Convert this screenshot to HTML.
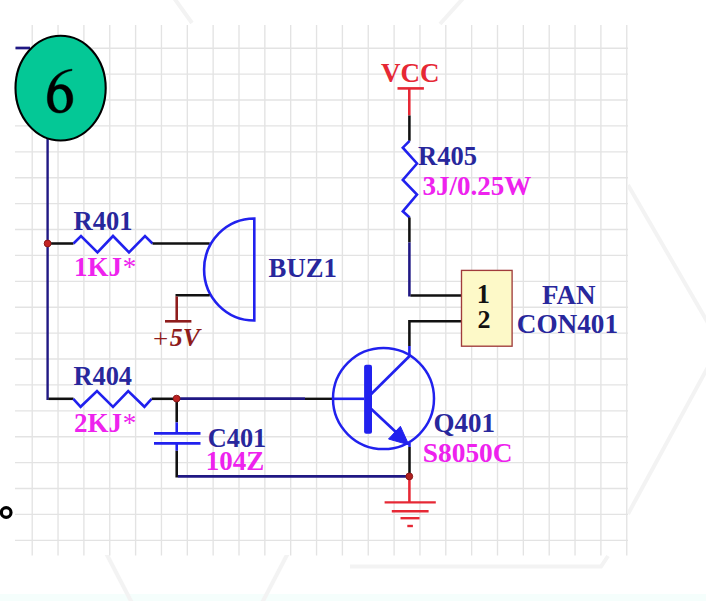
<!DOCTYPE html>
<html><head><meta charset="utf-8"><style>
html,body{margin:0;padding:0;background:#fff;width:706px;height:601px;overflow:hidden;}
svg{display:block;font-family:"Liberation Serif",serif;}
</style></head><body>
<svg width="706" height="601" viewBox="0 0 706 601">
<rect x="0" y="0" width="706" height="601" fill="#fff"/><rect x="0" y="594" width="706" height="7" fill="#f5fefc"/><g stroke="#f3f3f3" stroke-width="4" fill="none"><line x1="174" y1="-2" x2="192" y2="23"/><line x1="463.4" y1="-2" x2="440" y2="24"/><line x1="628" y1="185" x2="708" y2="323"/><line x1="708" y1="367" x2="628" y2="514"/><line x1="106" y1="553" x2="132" y2="603"/><line x1="288" y1="553" x2="262" y2="603"/><polyline points="350,566.5 601,566.5 608,556"/></g><rect x="15" y="25" width="613" height="530" fill="#fff"/><g stroke="#e3e3e3" stroke-width="1.35"><line x1="32.20" y1="25" x2="32.20" y2="555.5"/><line x1="58.05" y1="25" x2="58.05" y2="555.5"/><line x1="83.90" y1="25" x2="83.90" y2="555.5"/><line x1="109.75" y1="25" x2="109.75" y2="555.5"/><line x1="135.60" y1="25" x2="135.60" y2="555.5"/><line x1="161.45" y1="25" x2="161.45" y2="555.5"/><line x1="187.30" y1="25" x2="187.30" y2="555.5"/><line x1="213.15" y1="25" x2="213.15" y2="555.5"/><line x1="239.00" y1="25" x2="239.00" y2="555.5"/><line x1="264.85" y1="25" x2="264.85" y2="555.5"/><line x1="290.70" y1="25" x2="290.70" y2="555.5"/><line x1="316.55" y1="25" x2="316.55" y2="555.5"/><line x1="342.40" y1="25" x2="342.40" y2="555.5"/><line x1="368.25" y1="25" x2="368.25" y2="555.5"/><line x1="394.10" y1="25" x2="394.10" y2="555.5"/><line x1="419.95" y1="25" x2="419.95" y2="555.5"/><line x1="445.80" y1="25" x2="445.80" y2="555.5"/><line x1="471.65" y1="25" x2="471.65" y2="555.5"/><line x1="497.50" y1="25" x2="497.50" y2="555.5"/><line x1="523.35" y1="25" x2="523.35" y2="555.5"/><line x1="549.20" y1="25" x2="549.20" y2="555.5"/><line x1="575.05" y1="25" x2="575.05" y2="555.5"/><line x1="600.90" y1="25" x2="600.90" y2="555.5"/><line x1="626.75" y1="25" x2="626.75" y2="555.5"/><line x1="15" y1="48.20" x2="628" y2="48.20"/><line x1="15" y1="74.10" x2="628" y2="74.10"/><line x1="15" y1="100.00" x2="628" y2="100.00"/><line x1="15" y1="125.90" x2="628" y2="125.90"/><line x1="15" y1="151.80" x2="628" y2="151.80"/><line x1="15" y1="177.70" x2="628" y2="177.70"/><line x1="15" y1="203.60" x2="628" y2="203.60"/><line x1="15" y1="229.50" x2="628" y2="229.50"/><line x1="15" y1="255.40" x2="628" y2="255.40"/><line x1="15" y1="281.30" x2="628" y2="281.30"/><line x1="15" y1="307.20" x2="628" y2="307.20"/><line x1="15" y1="333.10" x2="628" y2="333.10"/><line x1="15" y1="359.00" x2="628" y2="359.00"/><line x1="15" y1="384.90" x2="628" y2="384.90"/><line x1="15" y1="410.80" x2="628" y2="410.80"/><line x1="15" y1="436.70" x2="628" y2="436.70"/><line x1="15" y1="462.60" x2="628" y2="462.60"/><line x1="15" y1="488.50" x2="628" y2="488.50"/><line x1="15" y1="514.40" x2="628" y2="514.40"/><line x1="15" y1="540.30" x2="628" y2="540.30"/></g><polyline points="15.5,48 30,48" fill="none" stroke="#201884" stroke-width="2.7" stroke-linejoin="miter" /><polyline points="47.6,130 47.6,400" fill="none" stroke="#201884" stroke-width="2.4" stroke-linejoin="miter" /><polyline points="48.5,398.8 73.5,398.8" fill="none" stroke="#111111" stroke-width="2.55" stroke-linejoin="miter" /><polyline points="48.5,243.5 73.5,243.5" fill="none" stroke="#111111" stroke-width="2.55" stroke-linejoin="miter" /><polyline points="73.5,243.5 81,236 97.5,252.5 113,236 129,252.5 145,236 152.5,243.5" fill="none" stroke="#2121ee" stroke-width="2.6" stroke-linejoin="miter" stroke-linecap="butt"/><polyline points="152.5,243.5 209.7,243.5" fill="none" stroke="#111111" stroke-width="2.55" stroke-linejoin="miter" /><polyline points="73.3,398.8 80.6,406.8 97,391 113,406.8 128.2,391 144.4,406.8 151.6,398.8" fill="none" stroke="#2121ee" stroke-width="2.6" stroke-linejoin="miter" stroke-linecap="butt"/><polyline points="151.6,398.8 176.5,398.8" fill="none" stroke="#111111" stroke-width="2.55" stroke-linejoin="miter" /><polyline points="176.5,398.6 305,398.6" fill="none" stroke="#201884" stroke-width="2.7" stroke-linejoin="miter" /><polyline points="305,398.8 332.9,398.8" fill="none" stroke="#111111" stroke-width="2.4" stroke-linejoin="miter" /><path d="M254.3,218.5 A50.2,51 0 0 0 254.3,320.5 Z" fill="none" stroke="#2121ee" stroke-width="2.6"/><polyline points="209.7,295.3 175.5,295.3" fill="none" stroke="#111111" stroke-width="2.55" stroke-linejoin="miter" /><polyline points="176.7,296.4 176.7,321.3" fill="none" stroke="#8e1c1c" stroke-width="2.55" stroke-linejoin="miter" /><polyline points="165,321.3 191.4,321.3" fill="none" stroke="#8e1c1c" stroke-width="2.6" stroke-linejoin="miter" /><polyline points="176.7,399 176.7,422.4" fill="none" stroke="#111111" stroke-width="2.55" stroke-linejoin="miter" /><polyline points="176.7,422.4 176.7,433" fill="none" stroke="#2121ee" stroke-width="2.55" stroke-linejoin="miter" /><polyline points="154,433.3 200.5,433.3" fill="none" stroke="#2121ee" stroke-width="2.7" stroke-linejoin="miter" /><polyline points="154,443.3 200.5,443.3" fill="none" stroke="#2121ee" stroke-width="2.7" stroke-linejoin="miter" /><polyline points="176.7,443.3 176.7,450.8" fill="none" stroke="#2121ee" stroke-width="2.55" stroke-linejoin="miter" /><polyline points="176.7,450.8 176.7,477.5" fill="none" stroke="#111111" stroke-width="2.55" stroke-linejoin="miter" /><polyline points="177.9,476.3 409.4,476.3" fill="none" stroke="#201884" stroke-width="2.7" stroke-linejoin="miter" /><circle cx="383.5" cy="398.6" r="50.5" fill="none" stroke="#2121ee" stroke-width="2.5"/><polyline points="332.9,398.8 364,398.8" fill="none" stroke="#2121ee" stroke-width="2.6" stroke-linejoin="miter" stroke-linecap="butt"/><rect x="364.1" y="364.8" width="7.9" height="69" rx="2" fill="#2121ee"/><polyline points="371,394.3 409.6,356" fill="none" stroke="#2121ee" stroke-width="2.7" stroke-linejoin="miter" stroke-linecap="butt"/><polyline points="371,408.8 402,437.8" fill="none" stroke="#2121ee" stroke-width="2.7" stroke-linejoin="miter" stroke-linecap="butt"/><polygon points="408.8,444.8 388.5,439 400.4,426.3" fill="#2121ee" stroke="#2121ee" stroke-width="1" stroke-linejoin="round"/><polyline points="409.5,443 409.5,447" fill="none" stroke="#2121ee" stroke-width="2.5" stroke-linejoin="miter" /><polyline points="409.5,447 409.5,476.3" fill="none" stroke="#111111" stroke-width="2.55" stroke-linejoin="miter" /><polyline points="409.4,346 409.4,355" fill="none" stroke="#2121ee" stroke-width="2.6" stroke-linejoin="miter" stroke-linecap="butt"/><polyline points="409.4,346 409.4,321.2 461.6,321.2" fill="none" stroke="#111111" stroke-width="2.55" stroke-linejoin="miter" /><polyline points="397.5,88.4 423.9,88.4" fill="none" stroke="#e62835" stroke-width="2.6" stroke-linejoin="miter" /><polyline points="409.3,88.6 409.3,115.5" fill="none" stroke="#e62835" stroke-width="2.55" stroke-linejoin="miter" /><polyline points="409.4,115.5 409.4,140.8" fill="none" stroke="#111111" stroke-width="2.55" stroke-linejoin="miter" /><polyline points="409.6,140.8 402.8,147.7 417,163.5 402.8,180 417,194.5 402.8,211.3 409.6,217.5" fill="none" stroke="#2121ee" stroke-width="2.6" stroke-linejoin="miter" stroke-linecap="butt"/><polyline points="409.4,217.4 409.4,242.4" fill="none" stroke="#111111" stroke-width="2.55" stroke-linejoin="miter" /><polyline points="409.4,242.4 409.4,296.5" fill="none" stroke="#201884" stroke-width="2.55" stroke-linejoin="miter" /><polyline points="410.5,295.4 461.6,295.4" fill="none" stroke="#111111" stroke-width="2.55" stroke-linejoin="miter" /><polyline points="409.4,477 409.4,502.4" fill="none" stroke="#e62835" stroke-width="2.55" stroke-linejoin="miter" /><polyline points="384.6,502.4 435.8,502.4" fill="none" stroke="#e62835" stroke-width="2.4" stroke-linejoin="miter" /><polyline points="391.8,511.2 428.6,511.2" fill="none" stroke="#e62835" stroke-width="2.4" stroke-linejoin="miter" /><polyline points="400.5,518.2 419.5,518.2" fill="none" stroke="#e62835" stroke-width="2.4" stroke-linejoin="miter" /><polyline points="407.3,526 412.9,526" fill="none" stroke="#e62835" stroke-width="2.4" stroke-linejoin="miter" /><circle cx="47.6" cy="243.5" r="3.4" fill="#c42424" stroke="#8c1818" stroke-width="1"/><circle cx="176.6" cy="398.6" r="3.4" fill="#bc2222" stroke="#8c1818" stroke-width="1"/><circle cx="409.3" cy="476.4" r="3.4" fill="#b02020" stroke="#8c1818" stroke-width="1"/><rect x="461.5" y="270.4" width="50.6" height="75.8" fill="#fdf9c8" stroke="#a03c3c" stroke-width="1.35"/><ellipse cx="60.6" cy="88.1" rx="45.1" ry="52.4" fill="#04c896" stroke="#000" stroke-width="2.1"/><path d="M72,69.2 C62,70 53,76 49.5,86 C47.8,91 47.2,96 47.4,100 C47.8,108 52.5,113 59.5,113 C67,113 72.8,107 72.8,99 C72.8,90.5 67.5,84.6 61,84.6 C58.2,84.6 56,85.5 54.2,87.2 C55.8,78.5 62.5,71.8 72,70.5 Z M52.8,98 C52.8,92 55.5,88.7 59.5,88.7 C64.5,88.7 67,94 67,100.5 C67,106.5 64.5,110.6 60.5,110.6 C55.5,110.6 52.8,104.5 52.8,98 Z" fill="#000" fill-rule="evenodd" stroke="#000" stroke-width="0.5"/><circle cx="6.2" cy="512.5" r="4.8" fill="none" stroke="#000" stroke-width="3.2"/><g font-family="Liberation Serif, serif"><text x="73.5" y="229.5" fill="#28279c" font-size="26.5" font-weight="bold" font-style="normal" >R401</text><text x="74" y="276.3" fill="#ee22ee" font-size="27" font-weight="bold" font-style="normal" >1KJ<tspan font-weight="normal" dx="0.8">*</tspan></text><text x="268.6" y="276.7" fill="#28279c" font-size="26.7" font-weight="bold" font-style="normal" >BUZ1</text><text x="153" y="347.6" fill="#8e1c1c" font-size="27" font-weight="normal" font-style="normal" >+</text><text x="169.8" y="345.6" fill="#8e1c1c" font-size="25.8" font-weight="bold" font-style="italic" >5V</text><text x="73.4" y="385" fill="#28279c" font-size="26.4" font-weight="bold" font-style="normal" >R404</text><text x="74" y="431.8" fill="#ee22ee" font-size="27" font-weight="bold" font-style="normal" >2KJ<tspan font-weight="normal" dx="0.8">*</tspan></text><text x="207.8" y="447" fill="#28279c" font-size="26.3" font-weight="bold" font-style="normal" >C401</text><text x="205.8" y="470" fill="#ee22ee" font-size="27" font-weight="bold" font-style="normal" >104Z</text><text x="433.5" y="431.8" fill="#28279c" font-size="27" font-weight="bold" font-style="normal" >Q401</text><text x="422.8" y="462.1" fill="#ee22ee" font-size="27.4" font-weight="bold" font-style="normal" >S8050C</text><text x="381" y="82" fill="#e62835" font-size="27" font-weight="bold" font-style="normal" >VCC</text><text x="418" y="164.6" fill="#28279c" font-size="26.5" font-weight="bold" font-style="normal" >R405</text><text x="422.5" y="195" fill="#ee22ee" font-size="27" font-weight="bold" font-style="normal" >3J/0.25W</text><text x="476.7" y="302.5" fill="#111" font-size="26.3" font-weight="bold" font-style="normal" >1</text><text x="477.5" y="328.2" fill="#111" font-size="26" font-weight="bold" font-style="normal" >2</text><text x="542" y="304.4" fill="#28279c" font-size="27" font-weight="bold" font-style="normal" >FAN</text><text x="516.8" y="333.3" fill="#28279c" font-size="27.2" font-weight="bold" font-style="normal" >CON401</text></g>
</svg>
</body></html>
